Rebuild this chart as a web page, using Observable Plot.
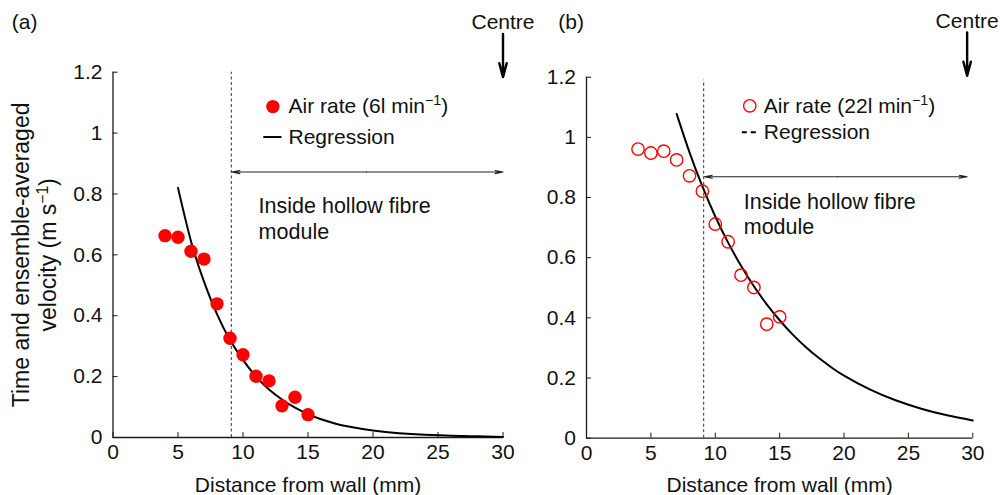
<!DOCTYPE html>
<html>
<head>
<meta charset="utf-8">
<script src="https://cdn.jsdelivr.net/npm/d3@7"></script>
<script src="https://cdn.jsdelivr.net/npm/@observablehq/plot@0.6"></script>
<style>
  html, body { margin: 0; padding: 0; background: white; }
  #wrap { position: relative; width: 1000px; height: 495px; overflow: hidden; background: white; }
  .panel { position: absolute; top: 0; }
</style>
</head>
<body>
<div id="wrap">
  <div class="panel" id="pa" style="left:0px;width:520px;"></div>
  <div class="panel" id="pb" style="left:520px;width:480px;"></div>
</div>
<script>
// ---------- data ----------
const distanceMm = [4, 5, 6, 7, 8, 9, 10, 11, 12, 13, 14, 15];
const velocityAir6 = [0.663, 0.658, 0.612, 0.586, 0.439, 0.326, 0.272, 0.201, 0.186, 0.104, 0.132, 0.075];
const velocityAir22 = [0.961, 0.948, 0.954, 0.925, 0.872, 0.821, 0.712, 0.653, 0.542, 0.501, 0.379, 0.403];

const regressionA_x = [5, 6, 7, 8, 9, 10, 11, 12, 13, 14, 15, 16, 17, 18, 20, 22, 24, 26, 28, 30];
const regressionA_y = [0.82, 0.645, 0.512, 0.405, 0.32, 0.255, 0.2, 0.158, 0.125, 0.098, 0.077, 0.06, 0.047, 0.037, 0.023, 0.014, 0.009, 0.006, 0.004, 0.002];
const regressionB_x = [7, 8, 9, 10, 11, 12, 13, 14, 15, 16, 17, 18, 19, 20, 22, 24, 26, 28, 30];
const regressionB_y = [1.078, 0.95, 0.837, 0.737, 0.65, 0.573, 0.505, 0.445, 0.392, 0.345, 0.304, 0.268, 0.236, 0.208, 0.162, 0.126, 0.098, 0.076, 0.059];

const xTicks = [0, 5, 10, 15, 20, 25, 30];
const yTicks = [0, 0.2, 0.4, 0.6, 0.8, 1, 1.2];

const SUP = "\u207B\u00B9"; // superscript −1 marker, rendered as a raised tspan
const panelLabels = ["(a)", "(b)"];
const legendLabelsA = ["Air rate (6l min" + SUP + ")", "Regression"];
const legendLabelsB = ["Air rate (22l min" + SUP + ")", "Regression"];
const xTitle = "Distance from wall (mm)";
const yTitle = "Time and ensemble-averaged\nvelocity (m s" + SUP + ")";
const moduleText = "Inside hollow fibre\nmodule";
const centreText = "Centre";
const moduleEdgeMm = 9.1;

// ---------- helpers ----------
const FONT = "'Liberation Sans', Arial, Helvetica, sans-serif";
const FS = 21;
const AX = "#1a1a1a";

function zip(xs, ys) { return xs.map((x, i) => ({x, y: ys[i]})); }

function panel(cfg) {
  const pts = zip(distanceMm, cfg.values);
  const reg = zip(cfg.regX, cfg.regY);
  const a = cfg.anno;
  const marks = [
    Plot.ruleY([0], {stroke: AX, strokeWidth: 1.3}),
    Plot.ruleX([0], {stroke: AX, strokeWidth: 1.3}),
    Plot.axisX({ticks: xTicks, tickSize: -5, tickPadding: 12, label: null, tickFormat: d => String(d), stroke: AX, fill: "#111", fontSize: FS}),
    Plot.axisY({ticks: yTicks, tickSize: -5, tickPadding: 15.5, label: null, tickFormat: d => String(d), stroke: AX, fill: "#111", fontSize: FS}),
    Plot.ruleX([moduleEdgeMm], {y1: 0, y2: a.dashTop, stroke: "#333", strokeWidth: 1, strokeDasharray: "3,2.5"}),
    Plot.line(reg, {x: "x", y: "y", curve: "natural", stroke: "#000", strokeWidth: 2}),
    cfg.filled
      ? Plot.dot(pts, {x: "x", y: "y", r: 6.7, fill: "#ff0000", stroke: "none"})
      : Plot.dot(pts, {x: "x", y: "y", r: 6.2, fill: "none", stroke: "#ff0000", strokeWidth: 1.4}),
    cfg.filled
      ? Plot.dot([a.legDot], {x: "x", y: "y", r: 6.7, fill: "#ff0000"})
      : Plot.dot([a.legDot], {x: "x", y: "y", r: 6.2, fill: "none", stroke: "#ff0000", strokeWidth: 1.4}),
    Plot.ruleY([a.legLine], {x1: "x1", x2: "x2", y: "y", stroke: "#000", strokeWidth: 2, strokeDasharray: cfg.filled ? null : "5,4"}),
    Plot.text([{t: cfg.legend[0], ...a.legText0}, {t: cfg.legend[1], ...a.legText1}],
      {x: "x", y: "y", text: "t", textAnchor: "start", fill: "#111", fontSize: FS}),
    Plot.arrow([a.dbl], {x1: "xm", y1: "y", x2: "x1", y2: "y", stroke: "#222", strokeWidth: 1.1, headLength: 11, headAngle: 22}),
    Plot.arrow([a.dbl], {x1: "xm", y1: "y", x2: "x2", y2: "y", stroke: "#222", strokeWidth: 1.1, headLength: 11, headAngle: 22}),
    Plot.text([moduleText], {x: a.modX, y: a.modY, textAnchor: "start", lineHeight: 1.2, fill: "#111", fontSize: 21.5}),
    Plot.arrow([a.centre], {x1: "x", y1: "y1", x2: "x", y2: "y2", stroke: "#000", strokeWidth: 2.4, headLength: 10, headAngle: 30}),
    Plot.text([centreText], {x: a.centre.x, y: a.centre.yt, textAnchor: "middle", fill: "#111", fontSize: FS}),
    Plot.text([cfg.label], {x: a.lab.x, y: a.lab.y, textAnchor: "middle", fill: "#111", fontSize: FS}),
    Plot.text([xTitle], {x: 15, y: a.xTitleY, textAnchor: "middle", fill: "#111", fontSize: FS})
  ];
  if (cfg.yTitle) {
    marks.push(Plot.text([cfg.yTitle], {x: a.yTitleX, y: 0.6, rotate: -90, textAnchor: "middle", lineAnchor: "middle", lineHeight: 1.17, fill: "#111", fontSize: 23}));
  }
  const svg = Plot.plot({
    width: cfg.width, height: 495,
    marginLeft: cfg.ml, marginRight: cfg.mr, marginTop: cfg.mt, marginBottom: cfg.mb,
    style: {fontFamily: FONT, fontSize: FS + "px", background: "transparent", overflow: "visible", color: "#111"},
    x: {domain: [0, 30]},
    y: {domain: [0, 1.2]},
    marks
  });
  // turn the superscript marker into a raised "−1"
  const ns = "http://www.w3.org/2000/svg";
  svg.querySelectorAll("text, tspan").forEach(el => {
    if (el.children.length === 0 && el.textContent.includes(SUP)) {
      const [before, after] = el.textContent.split(SUP);
      el.textContent = before;
      const sup = document.createElementNS(ns, "tspan");
      sup.setAttribute("dy", "-8");
      sup.setAttribute("font-size", "68%");
      sup.textContent = "\u22121";
      el.appendChild(sup);
      const rest = document.createElementNS(ns, "tspan");
      rest.setAttribute("dy", "8");
      rest.textContent = after;
      el.appendChild(rest);
    }
  });
  return svg;
}

const svgA = panel({
  width: 520, ml: 112.5, mr: 17.5, mt: 71.7, mb: 58,
  values: velocityAir6, regX: regressionA_x, regY: regressionA_y, filled: true,
  legend: legendLabelsA, label: panelLabels[0], yTitle: yTitle,
  anno: {
    dashTop: 1.2,
    legDot: {x: 12.3, y: 1.087},
    legLine: {x1: 11.6, x2: 13.0, y: 0.987},
    legText0: {x: 13.5, y: 1.087},
    legText1: {x: 13.5, y: 0.987},
    dbl: {x1: 9.15, x2: 30, xm: 19.5, y: 0.872},
    modX: 11.2, modY: 0.721,
    centre: {x: 30, y1: 1.326, y2: 1.184, yt: 1.364},
    lab: {x: -6.8, y: 1.364},
    xTitleY: -0.158,
    yTitleX: -6.1
  }
});
const svgB = panel({
  width: 480, ml: 66, mr: 27.7, mt: 76.7, mb: 57.3,
  values: velocityAir22, regX: regressionB_x, regY: regressionB_y, filled: false,
  legend: legendLabelsB, label: panelLabels[1], yTitle: null,
  anno: {
    dashTop: 1.19,
    legDot: {x: 12.68, y: 1.105},
    legLine: {x1: 12.1, x2: 13.38, y: 1.017},
    legText0: {x: 13.77, y: 1.105},
    legText1: {x: 13.77, y: 1.017},
    dbl: {x1: 9.15, x2: 29.56, xm: 19.5, y: 0.869},
    modX: 12.21, modY: 0.748,
    centre: {x: 29.56, y1: 1.349, y2: 1.205, yt: 1.387},
    lab: {x: -1.2, y: 1.382},
    xTitleY: -0.158
  }
});
document.getElementById("pa").appendChild(svgA);
document.getElementById("pb").appendChild(svgB);
</script>
</body>
</html>
